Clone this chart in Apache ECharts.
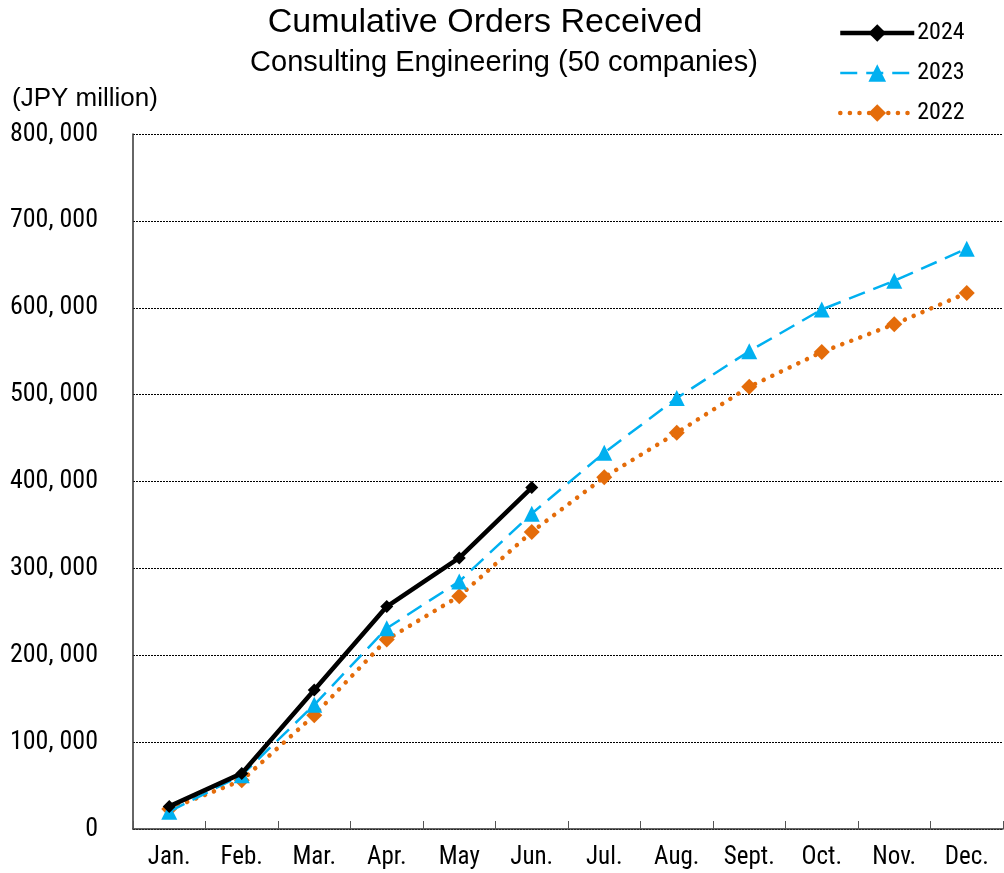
<!DOCTYPE html>
<html>
<head>
<meta charset="utf-8">
<script src="https://cdn.jsdelivr.net/npm/echarts@6/dist/echarts.min.js"></script>
<style>
  html, body { margin: 0; padding: 0; background: #fff; }
  #chart { width: 1004px; height: 873px; }
</style>
</head>
<body>
<div id="chart"></div>
<script>
// Months of the calendar year
const months = ['Jan.', 'Feb.', 'Mar.', 'Apr.', 'May', 'Jun.', 'Jul.', 'Aug.', 'Sept.', 'Oct.', 'Nov.', 'Dec.'];

// Cumulative orders received (JPY million)
const orders2024 = [26000, 64000, 160000, 256000, 312000, 393000];
const orders2023 = [20000, 62000, 143000, 231000, 285000, 363000, 433000, 496000, 550000, 598000, 631000, 668000];
const orders2022 = [23000, 56000, 131000, 218000, 268000, 342000, 405000, 456000, 509000, 549000, 581000, 617000];

const seriesNames = ['2024', '2023', '2022'];

const headFont = '"Liberation Sans", Arial, sans-serif';
const narrowFont = '"Roboto Condensed", "DejaVu Sans Condensed", sans-serif';

const chart = echarts.init(document.getElementById('chart'));

chart.setOption({
  animation: false,
  backgroundColor: '#ffffff',
  graphic: [
    {
      type: 'text', x: 485, y: 23,
      style: { text: 'Cumulative Orders Received', font: '34px ' + headFont, fill: '#000', align: 'center', verticalAlign: 'middle' }
    },
    {
      type: 'text', x: 504, y: 63,
      style: { text: 'Consulting Engineering (50 companies)', font: '29px ' + headFont, fill: '#000', align: 'center', verticalAlign: 'middle' }
    },
    {
      type: 'text', x: 12, y: 99,
      style: { text: '(JPY million)', font: '26px ' + headFont, fill: '#000', align: 'left', verticalAlign: 'middle' }
    }
  ],
  legend: {
    orient: 'vertical',
    left: 833, top: 16,
    itemWidth: 74, itemHeight: 22,
    itemGap: 16,
    data: seriesNames,
    lineStyle: { width: 'inherit' },
    textStyle: { fontFamily: narrowFont, fontSize: 24, color: '#000', padding: [0, 0, 0, -2] }
  },
  grid: { left: 133, right: 1, top: 134, bottom: 44, containLabel: false },
  xAxis: {
    type: 'category',
    data: months,
    boundaryGap: true,
    axisLine: { lineStyle: { color: '#333', width: 1.5 } },
    axisTick: { show: true, inside: true, length: 8, lineStyle: { color: '#555' } },
    axisLabel: { fontFamily: narrowFont, fontSize: 25, color: '#000', margin: 16 },
    splitLine: { show: false }
  },
  yAxis: {
    type: 'value',
    min: 0, max: 800000, interval: 100000,
    axisLine: { show: true, lineStyle: { color: '#333', width: 1.5 } },
    axisTick: { show: false },
    axisLabel: {
      fontFamily: narrowFont, fontSize: 26, color: '#000', margin: 35,
      formatter: v => v === 0 ? '0' : Math.floor(v / 1000) + ', ' + String(v % 1000).padStart(3, '0')
    },
    splitLine: { show: true, lineStyle: { color: '#000', width: 1, type: [2, 1] } }
  },
  series: [
    {
      name: '2022',
      type: 'line',
      data: orders2022,
      z: 2,
      symbol: 'diamond', symbolSize: 16,
      itemStyle: { color: '#E46C0A' },
      lineStyle: { color: '#E46C0A', width: 4.5, type: [0.1, 9.5], cap: 'round' }
    },
    {
      name: '2023',
      type: 'line',
      data: orders2023,
      z: 3,
      symbol: 'triangle', symbolSize: 16,
      itemStyle: { color: '#00B0F0' },
      lineStyle: { color: '#00B0F0', width: 2.5, type: [17, 9] }
    },
    {
      name: '2024',
      type: 'line',
      data: orders2024,
      z: 4,
      symbol: 'diamond', symbolSize: 13,
      itemStyle: { color: '#000' },
      lineStyle: { color: '#000', width: 4.5 }
    }
  ]
});
</script>
</body>
</html>
